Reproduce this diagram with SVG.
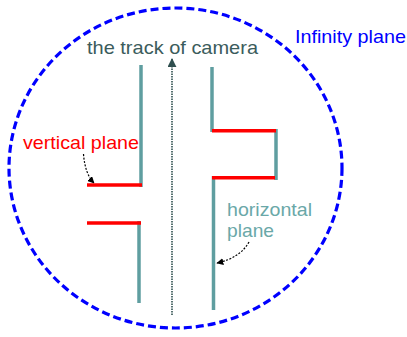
<svg xmlns="http://www.w3.org/2000/svg" width="407" height="337" viewBox="0 0 407 337">
<style>
text{font-family:"Liberation Sans",Arial,sans-serif;font-size:19px}
.wall{stroke:#5f9ea0;stroke-width:3.5;fill:none}
.vp{stroke:#ff0000;stroke-width:3.5;fill:none}
.lead{stroke:#000;stroke-width:1.2;stroke-dasharray:2 1.5;fill:none}
</style>
<defs>
<marker id="ah" viewBox="0 0 10 10" refX="9" refY="5" markerWidth="7" markerHeight="7" markerUnits="userSpaceOnUse" orient="auto"><path d="M0,0 L10,5 L0,10 z" fill="#000"/></marker>
<marker id="ahc" viewBox="0 0 10 10" refX="9" refY="5" markerWidth="9" markerHeight="9" markerUnits="userSpaceOnUse" orient="auto"><path d="M0,0 L10,5 L0,10 z" fill="#2f4f4f"/></marker>
</defs>
<g id="infinity-plane">
<ellipse cx="175.5" cy="168" rx="166.5" ry="160" fill="none" stroke="#0000ff" stroke-width="3.2" stroke-dasharray="8 4"/>
<text x="295" y="43" fill="#0000ff" textLength="111" lengthAdjust="spacingAndGlyphs">Infinity plane</text>
</g>
<g id="camera-track">
<text x="87" y="54" fill="#3b5c5c" textLength="171" lengthAdjust="spacingAndGlyphs">the track of camera</text>
</g>
<g id="left-walls">
<path class="wall" d="M141,65 V187"/>
<path class="wall" d="M139,221 V303"/>
</g>
<g id="left-vertical-planes">
<path class="vp" d="M87,185 H142"/>
<path class="vp" d="M87,223 H141"/>
</g>
<g id="right-walls">
<path class="wall" d="M212,67 V132"/>
<path class="wall" d="M276,129 V180"/>
<path class="wall" d="M213.5,176 V310"/>
</g>
<g id="right-vertical-planes">
<path class="vp" d="M212,130.7 H276"/>
<path class="vp" d="M212,177.7 H275"/>
</g>
<g id="vertical-plane-label">
<text x="23" y="149" fill="#ff0000" textLength="116" lengthAdjust="spacingAndGlyphs">vertical plane</text>
</g>
<g id="horizontal-plane-label">
<text x="227" y="216" fill="#6aa8a8" textLength="85" lengthAdjust="spacingAndGlyphs">horizontal</text>
<text x="227" y="237" fill="#6aa8a8" textLength="47" lengthAdjust="spacingAndGlyphs">plane</text>
</g>
<g id="connectors">
<path d="M172,315 V59" stroke="#2f4f4f" stroke-width="1.6" stroke-dasharray="1.5 1" fill="none" marker-end="url(#ahc)"/>
<path class="lead" d="M83.5,154 Q85,174 94,183" marker-end="url(#ah)"/>
<path class="lead" d="M249,242 Q240,258 217,263" marker-end="url(#ah)"/>
</g>
</svg>
